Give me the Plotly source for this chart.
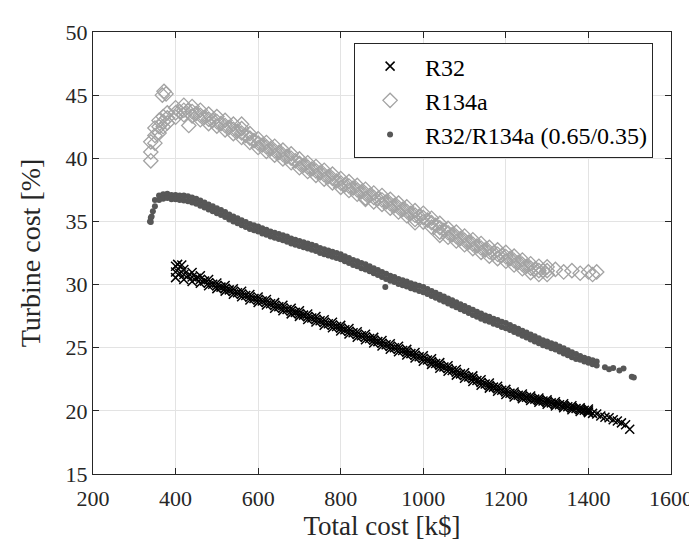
import plotly.graph_objects as go

# ---------------- data ----------------
# R32 band: rows read at even x (upper / middle / lower) and centre at odd x
r32_x = [400, 420, 440, 460, 480, 500, 520, 540, 560, 580, 600, 620, 640, 660, 680, 700, 720, 740, 760, 780,
         800, 820, 840, 860, 880, 900, 920, 940, 960, 980, 1000, 1020, 1040, 1060, 1080, 1100, 1120, 1140, 1160, 1180,
         1200, 1220, 1240, 1260, 1280, 1300, 1320, 1340, 1360, 1380, 1400]
r32_mid = [31.0, 30.8, 30.6, 30.4, 30.15, 29.9, 29.7, 29.45, 29.25, 29.0, 28.8, 28.6, 28.35, 28.15, 27.9, 27.7, 27.45,
           27.25, 27.0, 26.8, 26.55, 26.3, 26.05, 25.85, 25.6, 25.35, 25.1, 24.9, 24.65, 24.4, 24.15, 23.9, 23.6,
           23.35, 23.05, 22.8, 22.55, 22.25, 22.0, 21.75, 21.5, 21.3, 21.15, 21.0, 20.85, 20.7, 20.55, 20.4, 20.25,
           20.1, 20.0]
r32_upper = [31.45, 31.2, 30.95, 30.7, 30.4, 30.12, 29.92, 29.67, 29.47, 29.22, 29.02, 28.82, 28.57, 28.37, 28.12,
             27.92, 27.67, 27.47, 27.22, 27.02, 26.77, 26.52, 26.27, 26.07, 25.82, 25.57, 25.32, 25.12, 24.87, 24.62,
             24.37, 24.12, 23.82, 23.57, 23.27, 23.02, 22.77, 22.47, 22.2, 21.95, 21.7, 21.5, 21.33, 21.18, 21.02,
             20.87, 20.72, 20.56, 20.41, 20.25, 20.14]
r32_lower = [30.55, 30.4, 30.25, 30.1, 29.9, 29.68, 29.48, 29.23, 29.03, 28.78, 28.58, 28.38, 28.13, 27.93, 27.68,
             27.48, 27.23, 27.03, 26.78, 26.58, 26.33, 26.08, 25.83, 25.63, 25.38, 25.13, 24.88, 24.68, 24.43, 24.18,
             23.93, 23.68, 23.38, 23.13, 22.83, 22.58, 22.33, 22.03, 21.8, 21.55, 21.3, 21.1, 20.97, 20.82, 20.68,
             20.53, 20.38, 20.24, 20.09, 19.95, 19.86]
r32_x2 = [410, 430, 450, 470, 490, 510, 530, 550, 570, 590, 610, 630, 650, 670, 690, 710, 730, 750, 770, 790,
          810, 830, 850, 870, 890, 910, 930, 950, 970, 990, 1010, 1030, 1050, 1070, 1090, 1110, 1130, 1150, 1170,
          1190, 1210, 1230, 1250, 1270, 1290, 1310, 1330, 1350, 1370, 1390]
r32_mid2 = [30.9, 30.7, 30.5, 30.28, 30.03, 29.8, 29.58, 29.35, 29.13, 28.9, 28.7, 28.48, 28.25, 28.03, 27.8, 27.58,
            27.35, 27.13, 26.9, 26.68, 26.43, 26.18, 25.95, 25.73, 25.48, 25.23, 25.0, 24.78, 24.53, 24.28, 24.03,
            23.75, 23.48, 23.2, 22.93, 22.68, 22.4, 22.13, 21.88, 21.63, 21.4, 21.23, 21.08, 20.93, 20.78, 20.63,
            20.48, 20.33, 20.18, 20.05]
r32_tail_x = [405, 415, 1410, 1420, 1430, 1440, 1450, 1460, 1470, 1480, 1490, 1500]
r32_tail_y = [31.6, 31.55, 19.8, 19.75, 19.6, 19.5, 19.45, 19.3, 19.2, 19.05, 18.9, 18.55]

# R134a band
r134_x = [340, 350, 360, 370, 380, 400, 420, 440, 460, 480, 500, 520, 540, 560, 580, 600, 620, 640, 660, 680,
          700, 720, 740, 760, 780, 800, 820, 840, 860, 880, 900, 920, 940, 960, 980, 1000, 1020, 1040, 1060, 1080,
          1100, 1120, 1140, 1160, 1180, 1200, 1220, 1240, 1260, 1280, 1300]
r134_mid = [40.5, 41.8, 42.5, 42.9, 43.2, 43.6, 43.8, 43.7, 43.4, 43.1, 42.9, 42.6, 42.3, 42.0, 41.6, 41.2, 40.9, 40.6,
            40.3, 40.0, 39.6, 39.3, 39.0, 38.7, 38.4, 38.05, 37.8, 37.5, 37.2, 36.9, 36.7, 36.4, 36.1, 35.8, 35.5,
            35.3, 34.9, 34.5, 34.1, 33.8, 33.5, 33.2, 32.9, 32.6, 32.4, 32.2, 31.9, 31.6, 31.3, 31.1, 31.1]
r134_upper = [41.3, 42.4, 43.0, 43.3, 43.6, 44.0, 44.2, 44.1, 43.8, 43.5, 43.3, 43.0, 42.7, 42.35, 41.95, 41.55,
              41.25, 40.95, 40.65, 40.35, 39.95, 39.65, 39.35, 39.05, 38.75, 38.4, 38.15, 37.85, 37.55, 37.25,
              37.05, 36.75, 36.45, 36.15, 35.85, 35.65, 35.25, 34.85, 34.45, 34.15, 33.85, 33.55, 33.25, 32.95,
              32.75, 32.55, 32.25, 31.95, 31.65, 31.45, 31.4]
r134_lower = [39.8, 41.2, 42.0, 42.5, 42.8, 43.25, 43.45, 43.35, 43.05, 42.75, 42.55, 42.25, 41.95, 41.65, 41.25,
              40.85, 40.55, 40.25, 39.95, 39.65, 39.25, 38.95, 38.65, 38.35, 38.05, 37.7, 37.45, 37.15, 36.85,
              36.55, 36.35, 36.05, 35.75, 35.45, 35.15, 34.95, 34.55, 34.15, 33.75, 33.45, 33.15, 32.85, 32.55,
              32.25, 32.05, 31.85, 31.55, 31.25, 30.95, 30.8, 30.8]
r134_x2 = [410, 430, 450, 470, 490, 510, 530, 550, 570, 590, 610, 630, 650, 670, 690, 710, 730, 750, 770, 790,
           810, 830, 850, 870, 890, 910, 930, 950, 970, 990, 1010, 1030, 1050, 1070, 1090, 1110, 1130, 1150, 1170,
           1190, 1210, 1230, 1250, 1270, 1290]
r134_mid2 = [43.7, 43.75, 43.55, 43.25, 43.0, 42.75, 42.45, 42.15, 41.8, 41.4, 41.05, 40.75, 40.45, 40.15, 39.8,
             39.45, 39.15, 38.85, 38.55, 38.2, 37.9, 37.65, 37.35, 37.05, 36.8, 36.55, 36.25, 35.95, 35.65, 35.4,
             35.1, 34.7, 34.3, 33.95, 33.65, 33.35, 33.05, 32.75, 32.5, 32.3, 32.05, 31.75, 31.45, 31.2, 31.1]
r134_extra_x = [368, 372, 377, 432, 560, 860, 980, 1040, 1320, 1340, 1360, 1380, 1400, 1410, 1420]
r134_extra_y = [45.0, 45.3, 45.1, 42.6, 42.7, 36.75, 34.9, 33.9, 31.2, 31.0, 31.1, 30.9, 31.0, 30.8, 31.0]

# R32/R134a (0.65/0.35) band
mix_x = [340, 350, 360, 370, 380, 390, 400, 410, 420, 430, 440, 450, 460, 470, 480, 490, 500, 510, 520, 530,
         540, 550, 560, 570, 580, 590, 600, 610, 620, 630, 640, 650, 660, 670, 680, 690, 700, 710, 720, 730,
         740, 750, 760, 770, 780, 790, 800, 810, 820, 830, 840, 850, 860, 870, 880, 890, 900, 910, 920, 930,
         940, 950, 960, 970, 980, 990, 1000, 1010, 1020, 1030, 1040, 1050, 1060, 1070, 1080, 1090, 1100, 1110,
         1120, 1130, 1140, 1150, 1160, 1170, 1180, 1190, 1200, 1210, 1220, 1230, 1240, 1250, 1260, 1270, 1280,
         1290, 1300, 1310, 1320, 1330, 1340, 1350, 1360, 1370, 1380, 1390, 1400, 1410, 1420]
mix_upper = [35.3, 36.7, 37.05, 37.15, 37.2, 37.1, 37.1, 37.05, 37.05, 37.0, 36.9, 36.8, 36.65, 36.5, 36.35, 36.2,
             36.05, 35.9, 35.75, 35.55, 35.4, 35.25, 35.1, 34.95, 34.8, 34.7, 34.6, 34.45, 34.35, 34.2, 34.1, 34.0,
             33.9, 33.8, 33.65, 33.55, 33.45, 33.35, 33.25, 33.15, 33.05, 32.9, 32.8, 32.7, 32.6, 32.5, 32.4, 32.25,
             32.1, 31.95, 31.85, 31.7, 31.6, 31.45, 31.3, 31.15, 31.0, 30.85, 30.7, 30.6, 30.45, 30.35, 30.25, 30.1,
             30.0, 29.9, 29.8, 29.65, 29.5, 29.35, 29.2, 29.05, 28.9, 28.75, 28.6, 28.45, 28.3, 28.15, 28.0, 27.85,
             27.7, 27.55, 27.45, 27.3, 27.2, 27.05, 26.95, 26.8, 26.65, 26.5, 26.35, 26.2, 26.05, 25.9, 25.75, 25.6,
             25.5, 25.35, 25.25, 25.1, 24.95, 24.8, 24.65, 24.5, 24.35, 24.2, 24.1, 24.0, 23.9]
mix_lower = [34.95, 36.2, 36.7, 36.8, 36.85, 36.75, 36.75, 36.7, 36.65, 36.6, 36.5, 36.4, 36.25, 36.1, 35.95, 35.8,
             35.65, 35.5, 35.35, 35.15, 35.0, 34.85, 34.7, 34.55, 34.4, 34.3, 34.2, 34.05, 33.95, 33.8, 33.7, 33.6,
             33.5, 33.4, 33.25, 33.15, 33.05, 32.95, 32.85, 32.75, 32.65, 32.5, 32.4, 32.3, 32.2, 32.1, 32.0, 31.85,
             31.7, 31.55, 31.45, 31.3, 31.2, 31.05, 30.9, 30.75, 30.6, 30.45, 30.3, 30.2, 30.05, 29.95, 29.85, 29.7,
             29.6, 29.5, 29.4, 29.25, 29.1, 28.95, 28.8, 28.65, 28.5, 28.35, 28.2, 28.05, 27.9, 27.75, 27.6, 27.45,
             27.3, 27.15, 27.05, 26.9, 26.8, 26.65, 26.55, 26.4, 26.25, 26.1, 25.95, 25.8, 25.65, 25.5, 25.35, 25.2,
             25.1, 24.95, 24.85, 24.7, 24.55, 24.4, 24.25, 24.1, 24.05, 23.9, 23.8, 23.7, 23.6]
mix_extra_x = [338, 342, 345, 908, 1440, 1450, 1460, 1475, 1485, 1505, 1510]
mix_extra_y = [35.0, 35.4, 35.8, 29.8, 23.45, 23.3, 23.4, 23.2, 23.35, 22.7, 22.65]

labels = ["R32", "R134a", "R32/R134a (0.65/0.35)"]
x_ticks = [200, 400, 600, 800, 1000, 1200, 1400, 1600]
y_ticks = [15, 20, 25, 30, 35, 40, 45, 50]

# ---------------- figure ----------------
FONT = "Liberation Serif, Times New Roman, serif"
INK = "#262626"
fig = go.Figure()

fig.add_trace(go.Scatter(
    x=r32_x + r32_x + r32_x + r32_x2 + r32_tail_x,
    y=r32_upper + r32_mid + r32_lower + r32_mid2 + r32_tail_y,
    mode="markers", name=labels[0],
    marker=dict(symbol="x-thin", size=9, color="black", line=dict(color="black", width=1.5)),
))
fig.add_trace(go.Scatter(
    x=r134_x + r134_x + r134_x + r134_x2 + r134_extra_x,
    y=r134_upper + r134_mid + r134_lower + r134_mid2 + r134_extra_y,
    mode="markers", name=labels[1],
    marker=dict(symbol="diamond-open", size=11, color="#a3a3a3", line=dict(color="#a3a3a3", width=1.3)),
))
fig.add_trace(go.Scatter(
    x=mix_x + mix_x + mix_extra_x,
    y=mix_upper + mix_lower + mix_extra_y,
    mode="markers", name=labels[2],
    marker=dict(symbol="circle", size=6, color="#575757", line=dict(width=0)),
))

axis_common = dict(
    showline=True, mirror="ticks", linecolor=INK, linewidth=1,
    ticks="inside", ticklen=6, tickcolor=INK,
    showgrid=True, gridcolor="#e3e3e3", gridwidth=1, zeroline=False,
    tickfont=dict(family=FONT, size=22, color=INK),
)

fig.update_layout(
    width=697, height=544,
    margin=dict(l=85, r=29, t=22, b=78),
    paper_bgcolor="white", plot_bgcolor="white",
    font=dict(family=FONT, color=INK),
    xaxis=dict(range=[200, 1600], tickvals=x_ticks, ticktext=[str(v) for v in x_ticks],
               ticklabelstandoff=5,
               title=dict(text="Total cost [k$]", font=dict(family=FONT, size=27, color=INK), standoff=0),
               **axis_common),
    yaxis=dict(range=[15, 50], tickvals=y_ticks, ticktext=[str(v) for v in y_ticks],
               title=dict(text="Turbine cost [%]", font=dict(family=FONT, size=28, color=INK), standoff=16),
               **axis_common),
    legend=dict(x=0.969, y=0.975, xanchor="right", yanchor="top",
                bgcolor="white", bordercolor=INK, borderwidth=1,
                font=dict(family=FONT, size=24, color="black"),
                itemsizing="trace", itemwidth=60, tracegroupgap=0),
    showlegend=True,
)

fig.write_html("out.html")
